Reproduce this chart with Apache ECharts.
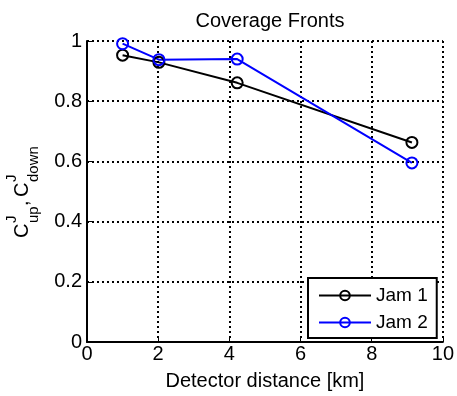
<!DOCTYPE html>
<html>
<head>
  <meta charset="utf-8">
  <script src="https://cdn.jsdelivr.net/npm/echarts@6.0.0/dist/echarts.min.js"></script>
  <style>
    html, body { margin: 0; padding: 0; background: #fff; }
  </style>
</head>
<body>
  <div id="chart" style="width: 457px; height: 396px;"></div>
  <script>
    // 数据
    var distance = [1.0, 2.02, 4.22, 9.13];
    var jam1 = [0.953, 0.929, 0.861, 0.663];
    var jam2 = [0.991, 0.938, 0.940, 0.595];
    var seriesNames = ['Jam 1', 'Jam 2'];

    var FONT = 'Liberation Sans, Arial, Helvetica, sans-serif';

    function pairs(xs, ys) {
      return xs.map(function (x, i) { return [x, ys[i]]; });
    }

    function lineSeries(name, values, color) {
      return {
        name: name,
        type: 'line',
        data: pairs(distance, values),
        symbol: 'circle',
        symbolSize: 11,
        showAllSymbol: true,
        lineStyle: { color: color, width: 2 },
        itemStyle: { color: 'rgba(255,255,255,0)', borderColor: color, borderWidth: 2 },
        emphasis: { disabled: true },
        z: 3
      };
    }

    var chart = echarts.init(document.getElementById('chart'));

    // y 轴标题 C^J_up, C^J_down
    var ySmall = 15, yBig = 20;
    var yLabel = {
      type: 'group',
      x: 22,
      y: 238,
      rotation: Math.PI / 2,
      children: [
        { type: 'text', x: 0, y: 0, style: { text: 'C', font: yBig + 'px ' + FONT, fill: '#000', verticalAlign: 'middle' } },
        { type: 'text', x: 15, y: -10, style: { text: 'J', font: ySmall + 'px ' + FONT, fill: '#000', verticalAlign: 'middle' } },
        { type: 'text', x: 15, y: 12, style: { text: 'up', font: ySmall + 'px ' + FONT, fill: '#000', verticalAlign: 'middle' } },
        { type: 'text', x: 32, y: 0, style: { text: ',', font: yBig + 'px ' + FONT, fill: '#000', verticalAlign: 'middle' } },
        { type: 'text', x: 41, y: 0, style: { text: 'C', font: yBig + 'px ' + FONT, fill: '#000', verticalAlign: 'middle' } },
        { type: 'text', x: 56, y: -10, style: { text: 'J', font: ySmall + 'px ' + FONT, fill: '#000', verticalAlign: 'middle' } },
        { type: 'text', x: 56, y: 12, style: { text: 'down', font: ySmall + 'px ' + FONT, fill: '#000', verticalAlign: 'middle' } }
      ]
    };

    var option = {
      animation: false,
      backgroundColor: '#fff',
      title: {
        text: 'Coverage Fronts',
        left: 265,
        top: 6,
        textAlign: 'center',
        textStyle: { fontFamily: FONT, fontSize: 20, fontWeight: 'normal', color: '#000' }
      },
      grid: { left: 87, right: 12, top: 41, bottom: 51 },
      legend: {
        orient: 'vertical',
        left: 308,
        top: 278,
        padding: [8, 9, 6, 10],
        itemGap: 8,
        itemWidth: 52,
        itemHeight: 12,
        backgroundColor: '#fff',
        borderColor: '#000',
        borderWidth: 2,
        borderRadius: 0,
        selectedMode: false,
        textStyle: { fontFamily: FONT, fontSize: 19, color: '#000', lineHeight: 19 },
        data: seriesNames
      },
      xAxis: {
        type: 'value',
        min: 0,
        max: 10,
        interval: 2,
        name: 'Detector distance [km]',
        nameLocation: 'middle',
        nameGap: 29,
        nameTextStyle: { fontFamily: FONT, fontSize: 20, color: '#000' },
        axisLine: { show: true, onZero: false, lineStyle: { color: '#000', width: 2 } },
        axisTick: { show: true, inside: true, length: 5, lineStyle: { color: '#000', width: 1 } },
        axisLabel: { margin: 2, fontFamily: FONT, fontSize: 20, color: '#000' },
        splitLine: { show: true, lineStyle: { color: '#000', width: 2, type: [2, 3] } }
      },
      yAxis: {
        type: 'value',
        min: 0,
        max: 1,
        interval: 0.2,
        axisLine: { show: true, onZero: false, lineStyle: { color: '#000', width: 2 } },
        axisTick: { show: true, inside: true, length: 5, lineStyle: { color: '#000', width: 1 } },
        axisLabel: { margin: 5, fontFamily: FONT, fontSize: 20, color: '#000' },
        splitLine: { show: true, lineStyle: { color: '#000', width: 2, type: [2, 3] } }
      },
      graphic: [yLabel],
      series: [
        lineSeries(seriesNames[0], jam1, '#000000'),
        lineSeries(seriesNames[1], jam2, '#0000ff')
      ]
    };

    chart.setOption(option);
  </script>
</body>
</html>
